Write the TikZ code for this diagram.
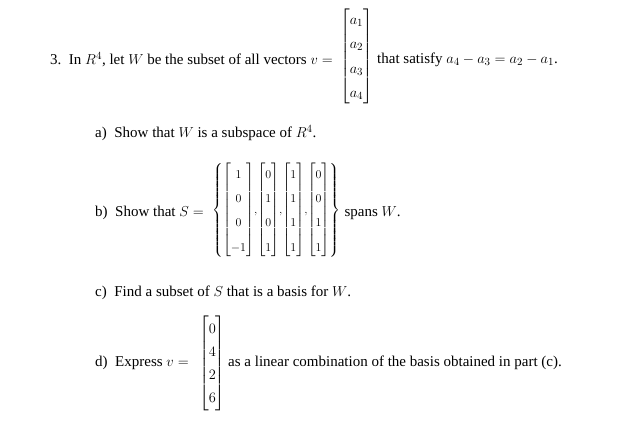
\documentclass[tikz,border=0pt]{standalone}
\usepackage{amsmath}
\usepackage{fontspec}
\setmainfont{Liberation Serif}
\begin{document}
\begin{tikzpicture}[x=1pt,y=-1pt,every node/.style={inner sep=0pt,font=\fontsize{15}{18}\selectfont},
 txt/.style={anchor=west}]
\useasboundingbox (0,0) rectangle (619,423);
\node[txt] (q3) at (50,60) {3.\ \ In $R^4$, let $W$ be the subset of all vectors $v=$};
\node[anchor=west] (vm) at (340,56) {\renewcommand\arraystretch{1.36}$\begin{bmatrix}a_1\\a_2\\a_3\\a_4\end{bmatrix}$};
\node[txt] (q3b) at (377,60) {that satisfy $a_4-a_3=a_2-a_1$.};
\node[txt] (qa) at (95,133) {a)\ \ Show that $W$ is a subspace of $R^4$.};
\node[txt] (qb) at (95,213) {b)\ \ Show that $S=$};
\node[anchor=west,font=\fontsize{13}{15.6}\selectfont] (sm) at (212,210) {\renewcommand\arraystretch{1.55}\setlength\arraycolsep{2pt}$\left\{\begin{bmatrix}1\\0\\0\\-1\end{bmatrix}\!,\!\begin{bmatrix}0\\1\\0\\1\end{bmatrix}\!,\!\begin{bmatrix}1\\1\\1\\1\end{bmatrix}\!,\!\begin{bmatrix}0\\0\\1\\1\end{bmatrix}\right\}$};
\node[txt] (qb2) at (sm.east) [xshift=4pt,yshift=-3pt] {spans $W$.};
\node[txt] (qc) at (95,293) {c)\ \ Find a subset of $S$ that is a basis for $W$.};
\node[txt] (qd) at (95,363) {d)\ \ Express $v=$};
\node[anchor=west] (dm) at (199,363) {\renewcommand\arraystretch{1.28}$\begin{bmatrix}0\\4\\2\\6\end{bmatrix}$};
\node[txt] (qd2) at (228,363) {as a linear combination of the basis obtained in part (c).};
\end{tikzpicture}
\end{document}
